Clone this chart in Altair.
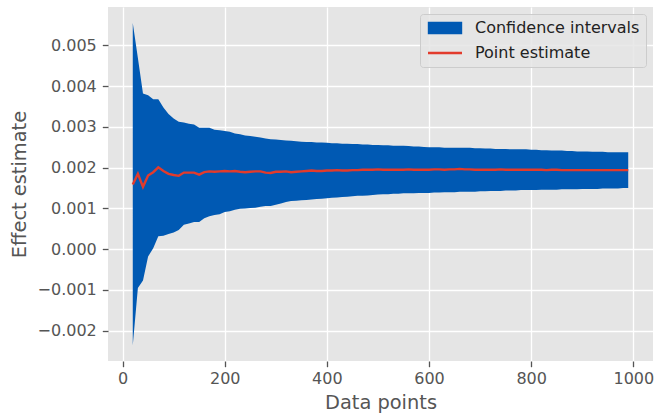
import altair as alt
import pandas as pd

# x positions (number of data points)
data_points = list(range(20, 1000, 10))

upper = [
    0.00555, 0.00469, 0.00382, 0.00378, 0.00368, 0.00368, 0.00348, 0.00332, 0.00321, 0.00313,
    0.00311, 0.00308, 0.00306, 0.00298, 0.00298, 0.00298, 0.00293, 0.00292, 0.00290, 0.00288,
    0.00284, 0.00282, 0.00279, 0.00278, 0.00276, 0.00274, 0.00272, 0.00270, 0.00269, 0.00268,
    0.00267, 0.00266, 0.00265, 0.00264, 0.00263, 0.00263, 0.00262, 0.00262, 0.00261, 0.00260,
    0.00260, 0.00259, 0.00259, 0.00258, 0.00258, 0.00257, 0.00257, 0.00256, 0.00256, 0.00255,
    0.00255, 0.00254, 0.00254, 0.00254, 0.00253, 0.00252, 0.00252, 0.00251, 0.00250, 0.00250,
    0.00250, 0.00249, 0.00249, 0.00249, 0.00249, 0.00249, 0.00249, 0.00248, 0.00248, 0.00247,
    0.00247, 0.00246, 0.00246, 0.00246, 0.00245, 0.00245, 0.00245, 0.00245, 0.00244, 0.00244,
    0.00243, 0.00243, 0.00242, 0.00242, 0.00242, 0.00241, 0.00241, 0.00240, 0.00240, 0.00240,
    0.00239, 0.00239, 0.00239, 0.00238, 0.00238, 0.00238, 0.00238, 0.00238,
]

lower = [
    -0.00236, -0.00095, -0.00077, -0.00018, 0.00002, 0.00032, 0.00033, 0.00037, 0.00041, 0.00047,
    0.00060, 0.00063, 0.00067, 0.00067, 0.00076, 0.00081, 0.00084, 0.00086, 0.00091, 0.00093,
    0.00097, 0.00099, 0.00100, 0.00101, 0.00102, 0.00104, 0.00106, 0.00106, 0.00109, 0.00112,
    0.00116, 0.00118, 0.00119, 0.00120, 0.00121, 0.00122, 0.00123, 0.00124, 0.00125, 0.00126,
    0.00127, 0.00128, 0.00129, 0.00130, 0.00131, 0.00131, 0.00132, 0.00133, 0.00134, 0.00135,
    0.00135, 0.00136, 0.00136, 0.00137, 0.00137, 0.00137, 0.00138, 0.00138, 0.00138, 0.00139,
    0.00139, 0.00140, 0.00140, 0.00140, 0.00141, 0.00141, 0.00141, 0.00141, 0.00142, 0.00142,
    0.00143, 0.00143, 0.00143, 0.00144, 0.00144, 0.00144, 0.00145, 0.00145, 0.00145, 0.00145,
    0.00146, 0.00146, 0.00146, 0.00146, 0.00147, 0.00147, 0.00147, 0.00147, 0.00148, 0.00148,
    0.00148, 0.00148, 0.00149, 0.00149, 0.00149, 0.00149, 0.00150, 0.00150,
]

estimate = [
    0.00159, 0.00185, 0.00153, 0.00181, 0.00189, 0.00201, 0.00192, 0.00185, 0.00182, 0.00180,
    0.00188, 0.00188, 0.00188, 0.00183, 0.00189, 0.00191, 0.00190, 0.00191, 0.00192, 0.00191,
    0.00192, 0.00190, 0.00189, 0.00190, 0.00191, 0.00191, 0.00188, 0.00187, 0.00190, 0.00190,
    0.00191, 0.00189, 0.00190, 0.00191, 0.00192, 0.00193, 0.00192, 0.00192, 0.00193, 0.00193,
    0.00194, 0.00193, 0.00193, 0.00194, 0.00194, 0.00195, 0.00195, 0.00195, 0.00196, 0.00195,
    0.00195, 0.00195, 0.00195, 0.00195, 0.00196, 0.00195, 0.00195, 0.00195, 0.00195, 0.00196,
    0.00196, 0.00195, 0.00196, 0.00196, 0.00197, 0.00196, 0.00196, 0.00195, 0.00195, 0.00195,
    0.00195, 0.00195, 0.00196, 0.00195, 0.00195, 0.00195, 0.00195, 0.00195, 0.00195, 0.00195,
    0.00195, 0.00194, 0.00195, 0.00195, 0.00194, 0.00194, 0.00194, 0.00194, 0.00194, 0.00194,
    0.00194, 0.00194, 0.00194, 0.00194, 0.00194, 0.00194, 0.00194, 0.00194,
]

series_names = ["Confidence intervals", "Point estimate"]
x_ticks = [0, 200, 400, 600, 800, 1000]
y_ticks = [-0.002, -0.001, 0.0, 0.001, 0.002, 0.003, 0.004, 0.005]

BLUE = "#0059b3"
RED = "#e23b2c"
PANEL = "#E5E5E5"
FONT = "DejaVu Sans"

df = pd.DataFrame({"n": data_points, "lower": lower, "upper": upper, "est": estimate})

x_enc = alt.X(
    "n:Q",
    scale=alt.Scale(domain=[-28.5, 1038.5], nice=False, zero=False),
    axis=alt.Axis(values=x_ticks, title="Data points", format="d"),
)
y_scale = alt.Scale(domain=[-0.002745, 0.005945], nice=False, zero=False)
y_axis = alt.Axis(values=y_ticks, title="Effect estimate", format=".3f")

band = alt.Chart(df).mark_area(color=BLUE, opacity=1).encode(
    x=x_enc,
    y=alt.Y("upper:Q", scale=y_scale, axis=y_axis),
    y2="lower:Q",
)

line = alt.Chart(df).mark_line(color=RED, strokeWidth=2.4).encode(
    x="n:Q",
    y="est:Q",
)

rect_path = "M-1,-1H5.4V1H-1Z"
line_path = "M-1.2,0H5.6"

legend_src = (
    alt.Chart(df)
    .transform_calculate(series="'Point estimate'")
    .transform_filter("false")
    .mark_point(filled=True, opacity=1)
    .encode(
        fill=alt.Fill("series:N", scale=alt.Scale(domain=series_names, range=[BLUE, RED]),
                      legend=alt.Legend(title=None)),
        stroke=alt.Stroke("series:N", scale=alt.Scale(domain=series_names, range=[BLUE, RED]),
                          legend=alt.Legend(title=None)),
        shape=alt.Shape("series:N", scale=alt.Scale(domain=series_names, range=[rect_path, line_path]),
                        legend=alt.Legend(title=None)),
    )
)

chart = (
    alt.layer(band, line, legend_src)
    .properties(
        width=545,
        height=354,
        autosize=alt.AutoSizeParams(type="none"),
        padding={"left": 108, "top": 7, "right": 2, "bottom": 55},
        background="white",
        view=alt.ViewBackground(fill=PANEL, strokeWidth=0),
    )
    .configure_view(fill=PANEL, strokeWidth=0)
    .configure_axis(
        domain=False,
        grid=True,
        gridColor="white",
        gridWidth=1.3,
        tickColor="#555555",
        tickSize=5.7,
        tickWidth=1.3,
        labelFont=FONT,
        labelFontSize=16,
        labelColor="#555555",
        titleFont=FONT,
        titleFontSize=19.4,
        titleFontWeight="normal",
        titleColor="#555555",
    )
    .configure_axisX(labelPadding=4, titlePadding=7)
    .configure_axisY(labelPadding=6, titlePadding=8)
    .configure_legend(
        orient="top-right",
        offset=7,
        padding=6,
        fillColor="rgba(229,229,229,0.85)",
        strokeColor="#cccccc",
        cornerRadius=3,
        labelFont=FONT,
        labelFontSize=16,
        labelColor="#222222",
        labelOffset=33,
        labelLimit=400,
        rowPadding=7,
        symbolSize=100,
        symbolStrokeWidth=2.4,
        symbolOpacity=1,
    )
)

chart.save("out.html", embed_options={"renderer": "svg", "actions": False})
